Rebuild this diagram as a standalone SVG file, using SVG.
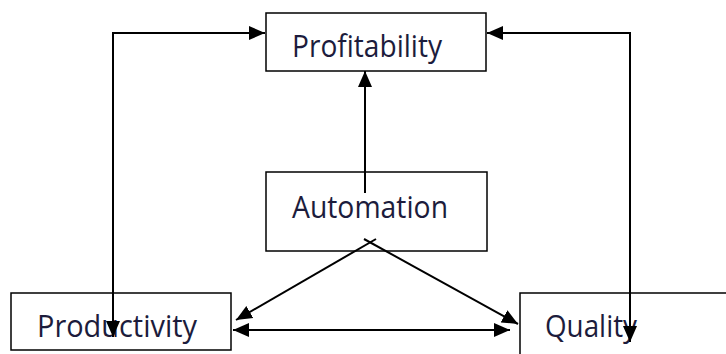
<svg xmlns="http://www.w3.org/2000/svg" width="726" height="354" viewBox="0 0 726 354">
<style>
.box{fill:#fff;stroke:#000;stroke-width:1.5}
.lbl{font-family:"Open Sans","Noto Sans",sans-serif;font-size:31px;fill:#1c1c3c}
.con{fill:none;stroke:#000;stroke-width:2}
</style>
<defs>
<marker id="ah" markerUnits="userSpaceOnUse" markerWidth="18" markerHeight="16" refX="16" refY="8" orient="auto-start-reverse">
<path d="M0,1 L16,8 L0,15 z" fill="#000"/>
</marker>
</defs>
<rect width="726" height="354" fill="#fff"/>
<g id="profitability">
<rect class="box" x="266" y="13" width="220" height="58"/>
<text class="lbl" x="292" y="57" textLength="150" lengthAdjust="spacingAndGlyphs">Profitability</text>
</g>
<g id="automation">
<rect class="box" x="266" y="172" width="221" height="79"/>
<text class="lbl" x="292" y="218" textLength="156" lengthAdjust="spacingAndGlyphs">Automation</text>
</g>
<g id="productivity">
<rect class="box" x="11" y="293" width="220" height="57"/>
<text class="lbl" x="37" y="337" textLength="160" lengthAdjust="spacingAndGlyphs">Productivity</text>
</g>
<g id="quality">
<rect class="box" x="520" y="293" width="210" height="70"/>
<text class="lbl" x="545" y="337" textLength="92" lengthAdjust="spacingAndGlyphs">Quality</text>
</g>
<g id="connectors">
<path class="con" d="M365,193 L365,71" marker-end="url(#ah)"/>
<path class="con" d="M113,337 L113,33 L265,33" marker-start="url(#ah)" marker-end="url(#ah)"/>
<path class="con" d="M630,342 L630,33 L487,33" marker-start="url(#ah)" marker-end="url(#ah)"/>
<path class="con" d="M376,239 L236,320" marker-end="url(#ah)"/>
<path class="con" d="M364,239 L518,324" marker-end="url(#ah)"/>
<path class="con" d="M233,330 L510,330" marker-start="url(#ah)" marker-end="url(#ah)"/>
</g>
</svg>
